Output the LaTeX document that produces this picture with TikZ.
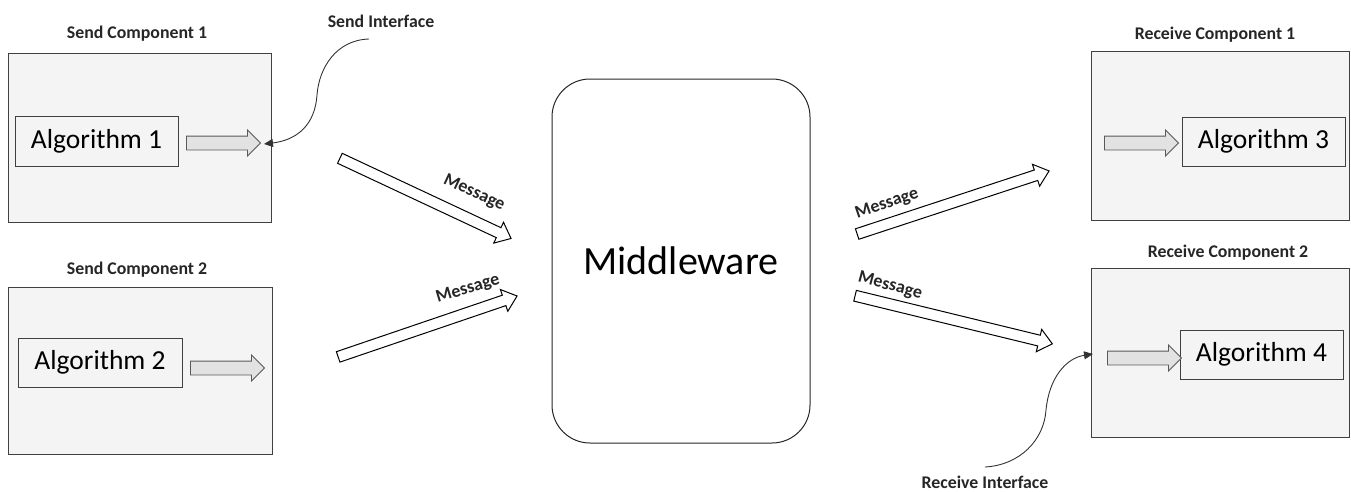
\documentclass[tikz,border=0pt]{standalone}
\usepackage{fontspec}
\setmainfont{Carlito}
\usetikzlibrary{shapes.arrows,arrows.meta}
\definecolor{boxfill}{HTML}{F4F4F4}
\definecolor{edge}{HTML}{404040}
\definecolor{garrow}{HTML}{E2E2E2}
\tikzset{
  comp/.style={draw=edge, fill=boxfill, line width=1pt, inner sep=0pt},
  algbox/.style={draw=edge, fill=boxfill, line width=1pt, inner sep=0pt, minimum width=163pt, minimum height=49pt, font=\fontsize{27.5}{31}\selectfont},
  lbl/.style={font=\bfseries\fontsize{17.8}{20}\selectfont, text=black!85, inner sep=0pt},
  msglbl/.style={font=\bfseries\fontsize{18}{20}\selectfont, text=black!85, inner sep=0pt},
  garr/.style={single arrow, draw=black!65, fill=garrow, line width=0.9pt, inner xsep=0pt, inner ysep=6.5pt, single arrow head extend=6pt, single arrow tip angle=90, minimum height=74pt},
  marr/.style={single arrow, draw=black, fill=white, line width=1pt, inner xsep=0pt, inner ysep=5pt, single arrow head extend=6pt, single arrow tip angle=80},
  iface/.style={draw=black!80, line width=0.9pt, -{Triangle[length=9pt,width=8pt]}},
}
\begin{document}
\begin{tikzpicture}[x=1pt,y=-1pt]
\useasboundingbox (0,0) rectangle (1351,491);
% components
\node[comp, minimum width=263pt, minimum height=169pt] (sc1) at (139.5,137.5) {};
\node[comp, minimum width=264pt, minimum height=167pt] (sc2) at (140,370.5) {};
\node[comp, minimum width=258pt, minimum height=169pt] (rc1) at (1220,135.5) {};
\node[comp, minimum width=258pt, minimum height=169pt] (rc2) at (1220,352.5) {};
\node[lbl] (sc1l) at (137,34) {Send Component 1};
\node[lbl] (sc2l) at (137,270) {Send Component 2};
\node[lbl] (rc1l) at (1215,35) {Receive Component 1};
\node[lbl] (rc2l) at (1228,253) {Receive Component 2};
% algorithms
\node[algbox, minimum width=163pt, minimum height=50pt] (a1) at (96.5,141) {Algorithm 1};
\node[algbox, minimum width=164pt] (a2) at (100,362.5) {Algorithm 2};
\node[algbox] (a3) at (1263.5,141.5) {Algorithm 3};
\node[algbox] (a4) at (1261.5,354.5) {Algorithm 4};
% gray arrows
\node[garr] (g1) at (220,143) {};
\node[garr] (g2) at (224,368) {};
\node[garr] (g3) at (1138,143) {};
\node[garr] (g4) at (1141,358) {};
% middleware
\node[draw=black!85, line width=1pt, rounded corners=38pt, minimum width=258pt, minimum height=364pt, inner sep=0pt, font=\fontsize{40}{46}\selectfont] (mw) at (681,261) {Middleware};
% message arrows
\node[marr, minimum height=189pt, rotate=-25.1] (m1) at (422.5,197) {};
\node[marr, minimum height=189pt, rotate=18.8] (m2) at (424.5,327.5) {};
\node[marr, minimum height=202pt, rotate=18.2] (m3) at (950,203.5) {};
\node[marr, minimum height=203pt, rotate=-13.7] (m4) at (950.5,319) {};
\node[msglbl, rotate=-25] (m1l) at (474,193) {Message};
\node[msglbl, rotate=17] (m2l) at (468,289) {Message};
\node[msglbl, rotate=19] (m3l) at (887,204) {Message};
\node[msglbl, rotate=-15] (m4l) at (890,286) {Message};
% interfaces
\node[lbl] (si) at (381,21) {Send Interface};
\node[lbl] (ri) at (985,482) {Receive Interface};
\coordinate (sis) at (369,39);
\coordinate (sit) at (264,144);
\coordinate (ris) at (985,467);
\coordinate (rit) at (1093,354);
\draw[iface] (sis) .. controls (336,40) and (319,68) .. (317,95) .. controls (315,125) and (297,140) .. (sit);
\draw[iface] (ris) .. controls (1020,465) and (1044,440) .. (1046,410) .. controls (1049,378) and (1066,358) .. (rit);
\end{tikzpicture}
\end{document}
